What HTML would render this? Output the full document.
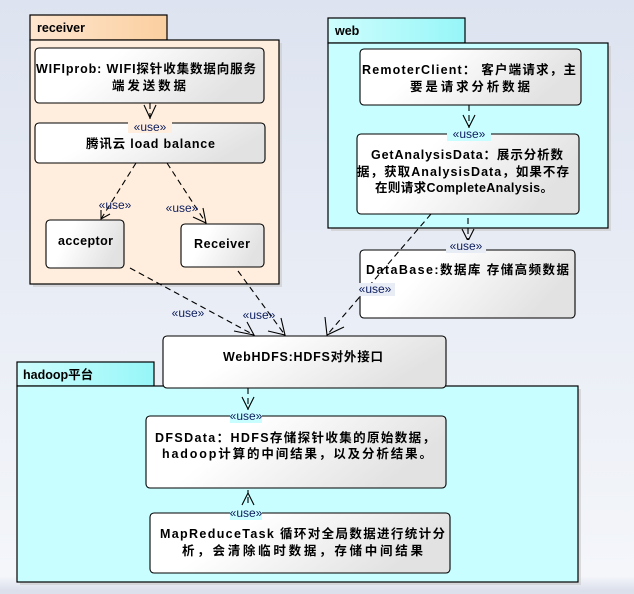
<!DOCTYPE html>
<html><head><meta charset="utf-8"><style>
html,body{margin:0;padding:0}
body{width:634px;height:594px;overflow:hidden;background:linear-gradient(#dde3f0,#f4f6fa 97%,#dce0ec 99.4%);}
svg{display:block}
text{font-family:"Liberation Sans","Noto Sans CJK SC",sans-serif;font-weight:bold;font-size:12.5px;fill:#000}
.u{font-weight:normal;font-size:12px;fill:#102060}
</style></head><body>
<svg width="634" height="594" viewBox="0 0 634 594" xmlns="http://www.w3.org/2000/svg">
<defs>
<linearGradient id="g" x1="0" y1="0" x2="1" y2="0.3"><stop offset="0" stop-color="#fff"/><stop offset="0.35" stop-color="#fff"/><stop offset="1" stop-color="#e2e2e2"/></linearGradient>
<linearGradient id="tr" x1="0" y1="0" x2="1" y2="0"><stop offset="0" stop-color="#fee6d0"/><stop offset="1" stop-color="#fbcf9f"/></linearGradient>
<linearGradient id="tc" x1="0" y1="0" x2="1" y2="0"><stop offset="0" stop-color="#cffdfd"/><stop offset="1" stop-color="#96f6f8"/></linearGradient>
</defs>
<g stroke="#000" stroke-width="1.2">
<rect x="33" y="43" width="249" height="244" fill="#c8c8c8" stroke="none" opacity=".6"/>
<rect x="30" y="15" width="137" height="25" fill="url(#tr)"/>
<rect x="30" y="40" width="249" height="244" fill="#ffeedd"/>
<rect x="331" y="46" width="280" height="185" fill="#c8c8c8" stroke="none" opacity=".6"/>
<rect x="328" y="18" width="137" height="25" fill="url(#tc)"/>
<rect x="328" y="43" width="280" height="185" fill="#c8feff"/>
<rect x="20" y="389" width="561" height="196" fill="#c8c8c8" stroke="none" opacity=".6"/>
<rect x="17" y="362" width="137" height="24" fill="url(#tc)"/>
<rect x="17" y="386" width="561" height="196" fill="#c8feff"/>
</g>
<text x="37" y="32">receiver</text>
<text x="335" y="35">web</text>
<text x="23" y="379">hadoop平台</text>
<g stroke="#000" stroke-width="1.1" fill="url(#g)">
<rect x="35" y="48" width="229" height="55" rx="4"/>
<rect x="35" y="123" width="230" height="40" rx="4"/>
<rect x="46" y="220" width="78" height="48" rx="4"/>
<rect x="181" y="224" width="83" height="43" rx="4"/>
<rect x="360" y="49" width="221" height="56" rx="4"/>
<rect x="357" y="134" width="222" height="80" rx="4"/>
<rect x="360" y="250" width="215" height="68" rx="4"/>
<rect x="163" y="336" width="283" height="52" rx="4"/>
<rect x="146" y="416" width="300" height="72" rx="4"/>
<rect x="150" y="513" width="300" height="60" rx="4"/>
</g>
<g lengthAdjust="spacing">
<text x="36" y="73" textLength="220" lengthAdjust="spacing">WIFIprob: WIFI探针收集数据向服务</text>
<text x="112" y="90" textLength="74" lengthAdjust="spacing">端发送数据</text>
<text x="86" y="148" textLength="129" lengthAdjust="spacing">腾讯云 load balance</text>
<text x="58" y="245" textLength="55" lengthAdjust="spacing">acceptor</text>
<text x="194" y="248" textLength="56" lengthAdjust="spacing">Receiver</text>
<text x="362" y="74" textLength="214" lengthAdjust="spacing">RemoterClient： 客户端请求，主</text>
<text x="410" y="91" textLength="120" lengthAdjust="spacing">要是请求分析数据</text>
<text x="371" y="159" textLength="192" lengthAdjust="spacing">GetAnalysisData：展示分析数</text>
<text x="357" y="176" textLength="212" lengthAdjust="spacing">据，获取AnalysisData，如果不存</text>
<text x="375" y="192" textLength="178" lengthAdjust="spacing">在则请求CompleteAnalysis。</text>
<text x="366" y="274" textLength="203" lengthAdjust="spacing">DataBase:数据库 存储高频数据</text>
<text x="223" y="361" textLength="160" lengthAdjust="spacing">WebHDFS:HDFS对外接口</text>
<text x="155" y="442" textLength="280" lengthAdjust="spacing">DFSData：HDFS存储探针收集的原始数据，</text>
<text x="162" y="458" textLength="270" lengthAdjust="spacing">hadoop计算的中间结果，以及分析结果。</text>
<text x="160" y="538" textLength="285" lengthAdjust="spacing">MapReduceTask 循环对全局数据进行统计分</text>
<text x="182" y="555" textLength="241" lengthAdjust="spacing">析，会清除临时数据，存储中间结果</text>
</g>
<g stroke="#000" stroke-width="1.1" fill="none" stroke-dasharray="6,4">
<line x1="150" y1="103" x2="150" y2="121"/>
<line x1="136" y1="163" x2="101" y2="219"/>
<line x1="167" y1="163" x2="206" y2="223"/>
<line x1="130" y1="268" x2="254" y2="335"/>
<line x1="238" y1="271" x2="285" y2="335"/>
<line x1="431" y1="214" x2="327" y2="335"/>
<line x1="469" y1="105" x2="469" y2="132"/>
<line x1="468" y1="218" x2="468" y2="248"/>
<line x1="248" y1="388" x2="248" y2="414"/>
<line x1="248" y1="513" x2="248" y2="490"/>
</g>
<g stroke="#000" stroke-width="1.1" fill="none">
<polyline points="144,105 150,118 156,105"/>
<polyline points="101,210 101,219 110,214"/>
<polyline points="193,217 206,223 203,208"/>
<polyline points="234,331 254,335 247,322"/>
<polyline points="268,331 285,335 281,318"/>
<polyline points="325,317 327,335 344,327"/>
<polyline points="463,115 469,127 475,115"/>
<polyline points="462,229 468,241 474,229"/>
<polyline points="242,397 248,409 254,397"/>
<polyline points="242,505 248,493 254,505"/>
</g>
<g>
<rect x="128" y="120" width="44" height="13" fill="#ffeedd"/><text class="u" x="150" y="131" text-anchor="middle">«use»</text>
<text class="u" x="115" y="209" text-anchor="middle">«use»</text>
<text class="u" x="182" y="212" text-anchor="middle">«use»</text>
<text class="u" x="188" y="317" text-anchor="middle">«use»</text>
<text class="u" x="259" y="319" text-anchor="middle">«use»</text>
<rect x="357" y="283" width="38" height="13" fill="#e8ecf4"/><text class="u" x="375" y="293" text-anchor="middle">«use»</text>
<rect x="447" y="128" width="44" height="13" fill="#c8feff"/><text class="u" x="469" y="138" text-anchor="middle">«use»</text>
<rect x="446" y="240" width="40" height="13" fill="#e8ecf4"/><text class="u" x="466" y="250" text-anchor="middle">«use»</text>
<rect x="230" y="410" width="32" height="13" fill="#c8feff"/><text class="u" x="246" y="420" text-anchor="middle">«use»</text>
<rect x="230" y="507" width="32" height="13" fill="#c8feff"/><text class="u" x="246" y="517" text-anchor="middle">«use»</text>
</g>
</svg>
</body></html>
